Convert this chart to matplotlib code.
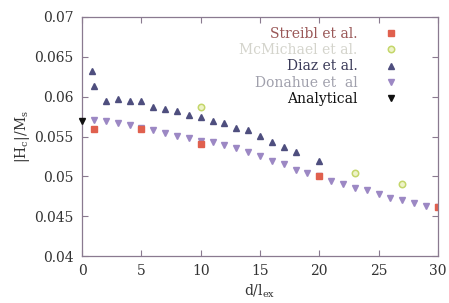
import numpy as np
import matplotlib
matplotlib.use("Agg")
import matplotlib.pyplot as plt

plt.rcParams['font.family'] = ['DejaVu Serif']
plt.rcParams['mathtext.fontset'] = 'dejavuserif'

# Streibl et al.
streibl_x = [1, 5, 10, 20, 30]
streibl_y = [0.0560, 0.0560, 0.0541, 0.0500, 0.0461]

# McMichael et al.
mcm_x = [10, 23, 27]
mcm_y = [0.0587, 0.0504, 0.0491]

# Diaz et al.
diaz_x = [0.8, 1.0, 2, 3, 4, 5, 6, 7, 8, 9, 10, 11, 12, 13, 14, 15, 16, 17, 18, 20]
diaz_y = [0.0632, 0.0613, 0.0594, 0.0597, 0.0595, 0.0594, 0.0587, 0.0585, 0.0582,
          0.0577, 0.0574, 0.0569, 0.0567, 0.0561, 0.0558, 0.0551, 0.0543, 0.0537,
          0.0530, 0.0519]

# Donahue et al.
don_x = list(range(1, 31))
don_y = [0.0571, 0.0569, 0.0567, 0.0564, 0.0561, 0.0558, 0.0554, 0.0551, 0.0548,
         0.0544, 0.0543, 0.0539, 0.0535, 0.0530, 0.0525, 0.0519, 0.0515, 0.0508,
         0.0504, 0.0501, 0.0494, 0.0490, 0.0486, 0.0483, 0.0478, 0.0473, 0.0470,
         0.0467, 0.0463, 0.0461]

# Analytical
ana_x = [0]
ana_y = [0.0570]

fig = plt.figure(figsize=(4.49, 3.03), dpi=100)
ax = fig.add_axes([0.183, 0.155, 0.792, 0.789])

h_diaz, = ax.plot(diaz_x, diaz_y, '^', color='#4e4e7e', ms=4.6, ls='none', label='Diaz et al.')
h_don, = ax.plot(don_x, don_y, 'v', color='#9c88c4', ms=4.6, ls='none', label='Donahue et  al')
h_str, = ax.plot(streibl_x, streibl_y, 's', color='#e0604e', ms=5, ls='none', label='Streibl et al.')
h_mcm, = ax.plot(mcm_x, mcm_y, 'o', mfc='#eef3c8', mec='#c4d66a', mew=1.1, ms=4.6,
                 ls='none', label='McMichael et al.')
h_ana, = ax.plot(ana_x, ana_y, 'v', color='#111111', ms=4.6, ls='none', label='Analytical',
                 clip_on=False, zorder=5)

ax.set_xlim(0, 30)
ax.set_ylim(0.04, 0.07)
ax.set_xticks(np.arange(0, 31, 5))
ax.set_yticks(np.arange(0.04, 0.0701, 0.005))
ax.set_yticklabels(['0.04', '0.045', '0.05', '0.055', '0.06', '0.065', '0.07'])
ax.tick_params(direction='in', length=4, width=0.8, top=True, right=True,
               color='#8a7a90', labelsize=10, labelcolor='#333333', pad=6)
for s in ax.spines.values():
    s.set_color('#8a7a90')
    s.set_linewidth(0.9)

ax.set_xlabel(r'd/l$_\mathrm{ex}$', fontsize=10, color='#333333', labelpad=3)
ax.set_ylabel(r'|H$_\mathrm{c}$|/M$_\mathrm{s}$', fontsize=10, color='#333333', labelpad=2)

leg = ax.legend([h_str, h_mcm, h_diaz, h_don, h_ana],
                ['Streibl et al.', 'McMichael et al.', 'Diaz et al.', 'Donahue et  al', 'Analytical'],
                loc='upper right', bbox_to_anchor=(0.915, 1.0), frameon=False,
                markerfirst=False, fontsize=10, handlelength=1.0, handletextpad=1.9,
                labelspacing=0.17, borderaxespad=0.3)
text_colors = ['#9a5858', '#d4d4cc', '#3a3a58', '#a0a0ac', '#111111']
for t, c in zip(leg.get_texts(), text_colors):
    t.set_color(c)

fig.savefig('out.png', dpi=100)
